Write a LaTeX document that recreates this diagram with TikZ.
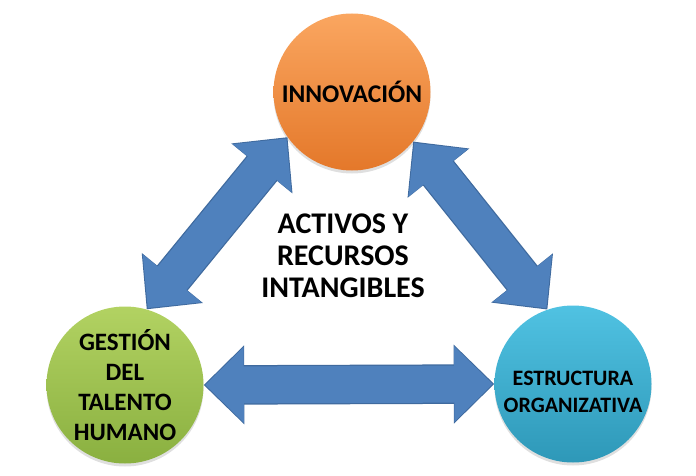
\documentclass[tikz,border=0pt]{standalone}
\usepackage{fontspec}
\setmainfont{Carlito}
\usetikzlibrary{arrows.meta,shadows}
\definecolor{flechaazul}{HTML}{4F81BD}
\definecolor{flechaborde}{HTML}{3F6A9E}

\begin{document}
\begin{tikzpicture}[x=1pt, y=-1pt,
    bola/.style={circle, minimum size=157pt, inner sep=0pt, align=center,
      drop shadow={opacity=0.25, shadow xshift=0pt, shadow yshift=-3pt}},
    flecha/.style={preaction={draw=flechaborde, line width=39.5pt, shorten >=0pt, shorten <=0pt,
        {Triangle[length=40.5pt,width=76.5pt]}-{Triangle[length=40.5pt,width=76.5pt]}},
      draw=flechaazul, line width=37pt, shorten >=1.6pt, shorten <=1.6pt,
      {Triangle[length=38.5pt,width=73.5pt]}-{Triangle[length=38.5pt,width=73.5pt]}}]
      \useasboundingbox (0,0) rectangle (696,476);
      \node[bola, top color={rgb,255:red,250;green,166;blue,96}, bottom color={rgb,255:red,228;green,120;blue,42},
        font=\bfseries\fontsize{25.5}{28}\selectfont] (in) at (352,92) {INNOVACIÓN};
      \node[bola, top color={rgb,255:red,178;green,210;blue,98}, bottom color={rgb,255:red,138;green,176;blue,64},
        font=\bfseries\fontsize{25}{30}\selectfont] (gt) at (125,385) {GESTIÓN\\DEL\\TALENTO\\HUMANO};
      \node[bola, top color={rgb,255:red,80;green,194;blue,226}, bottom color={rgb,255:red,46;green,152;blue,184},
        font=\bfseries\fontsize{22}{27}\selectfont] (eo) at (573,384) {\rule{0pt}{31pt}ESTRUCTURA\\ORGANIZATIVA};
      \node[align=center, font=\bfseries\fontsize{30}{32}\selectfont] (ar) at (343,256) {ACTIVOS Y\\RECURSOS\\INTANGIBLES};
      \draw[flecha] (gt.74) -- (in.215);
      \draw[flecha] (in.-39) -- (eo.109);
      \draw[flecha] (gt.east) -- (eo.west);
    \end{tikzpicture}
\end{document}
